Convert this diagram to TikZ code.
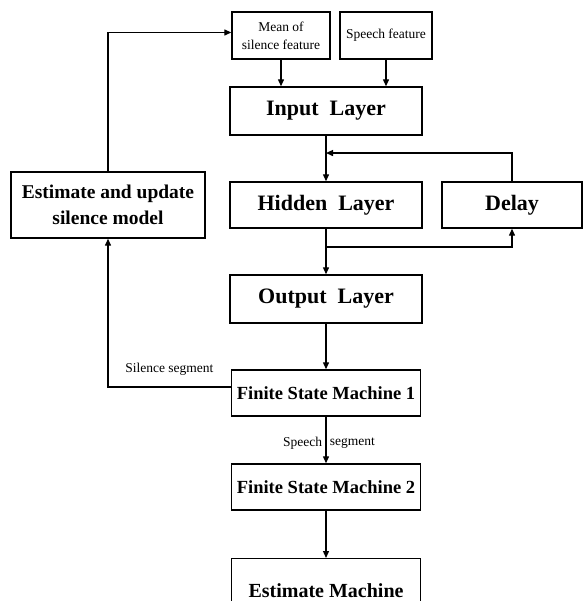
\documentclass[tikz,border=0pt]{standalone}
\usepackage{fontspec}
\setmainfont{Liberation Serif}
\usepackage{tikz}
\usetikzlibrary{calc, positioning, arrows.meta}

\tikzset{
  layerbox/.style={draw, line width=1.4pt, fill=white, align=center, inner sep=2pt,
                   font=\fontsize{22}{26}\selectfont\bfseries},
  fsmbox/.style={layerbox, font=\fontsize{18.5}{22}\selectfont\bfseries},
  featbox/.style={layerbox, font=\fontsize{13.5}{18}\selectfont},
  seglabel/.style={font=\fontsize{13.5}{16}\selectfont}
}

\begin{document}
\begin{tikzpicture}[x=1pt, y=-1pt, line width=1.3pt, >={Triangle[length=7pt, width=6pt]}]
        \useasboundingbox (0,0) rectangle (584,601);
        \clip (0,0) rectangle (584,601);

        \node[featbox, minimum width=98, minimum height=47] (mean) at (281,35.5) {Mean of\\silence feature};
        \node[featbox, minimum width=92, minimum height=47] (speech) at (386,35.5) {Speech feature};
        \node[layerbox, minimum width=192, minimum height=48] (input) at (326,111) {Input\ \ Layer};
        \node[layerbox, minimum width=192, minimum height=46] (hidden) at (326,205) {Hidden\ \ Layer};
        \node[layerbox, minimum width=140, minimum height=46] (delay) at (512,205) {Delay};
        \node[layerbox, minimum width=192, minimum height=48] (output) at (326,299) {Output\ \ Layer};
        \node[layerbox, minimum width=194, minimum height=66, font=\fontsize{19.5}{26}\selectfont\bfseries]
              (silmodel) at (108,205) {Estimate and update\\silence model};
        \node[fsmbox, minimum width=189, minimum height=46] (fsmA) at (326,393) {Finite State Machine 1};
        \node[fsmbox, minimum width=189, minimum height=46] (fsmB) at (326,487) {Finite State Machine 2};
        \node[layerbox, minimum width=189, minimum height=64, anchor=north, font=\fontsize{20}{24}\selectfont\bfseries]
              (estmach) at (326,558) {Estimate Machine};

        \coordinate (back) at ($(input.south)!.38!(hidden.north)$);
        \coordinate (split) at ($(hidden.south)!.4!(output.north)$);

        \draw[->] (mean) -- (mean.south |- input.north);
        \draw[->] (speech) -- (speech.south |- input.north);
        \draw[->] (input) -- (hidden);
        \draw[->] (delay.north) |- (back);
        \draw[->] (hidden) -- (output);
        \draw[->] (split) -| (delay.south);
        \draw[->] (output) -- (fsmA);
        \draw[->] (fsmA) -- node[pos=.56, left, seglabel] {Speech} node[pos=.56, right, seglabel] {segment} (fsmB);
        \draw[->] (fsmB) -- (estmach);
        \draw[->] ([yshift=6pt]fsmA.west) -| node[pos=.25, above=8pt, seglabel] {Silence segment} (silmodel.south);
        \draw[->] (silmodel.north) |- ([yshift=3pt]mean.west);
      \end{tikzpicture}
\end{document}
